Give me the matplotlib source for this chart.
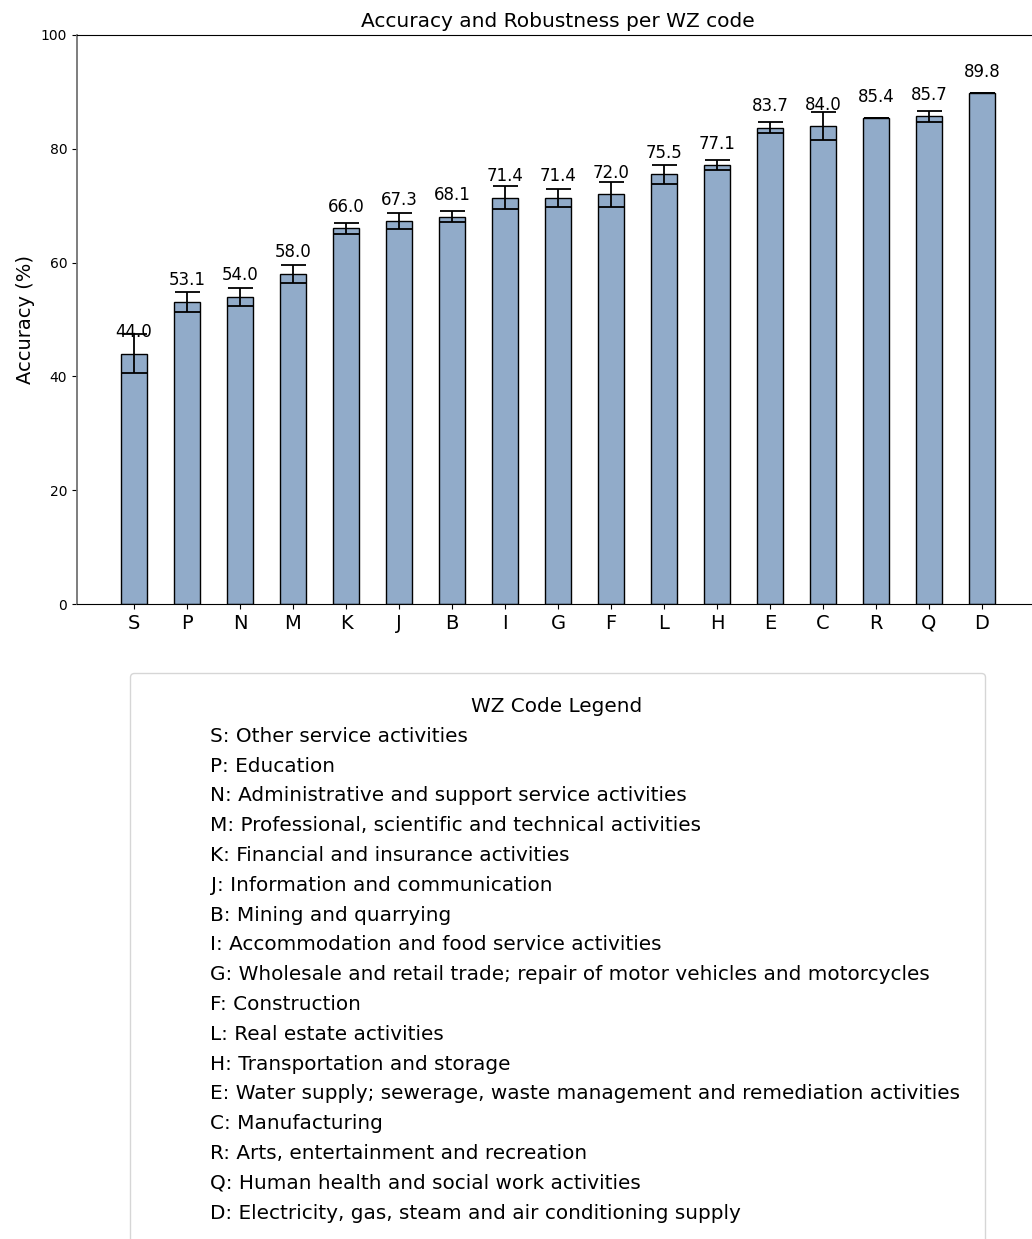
import matplotlib.pyplot as plt
from matplotlib.lines import Line2D

# Datos
codes = ['S', 'P', 'N', 'M', 'K', 'J', 'B', 'I', 'G', 'F', 'L', 'H', 'E', 'C', 'R', 'Q', 'D']
accuracy = [44.0, 53.1, 54.0, 58.0, 66.0, 67.3, 68.1, 71.4, 71.4, 72.0, 75.5, 77.1, 83.7, 84.0, 85.4, 85.7, 89.8]
errors = [3.4, 1.7, 1.6, 1.6, 1.0, 1.4, 1.0, 2.0, 1.6, 2.2, 1.7, 0.9, 0.95, 2.4, 0.0, 1.0, 0.0]
descriptions = [
    'Other service activities',
    'Education',
    'Administrative and support service activities',
    'Professional, scientific and technical activities',
    'Financial and insurance activities',
    'Information and communication',
    'Mining and quarrying',
    'Accommodation and food service activities',
    'Wholesale and retail trade; repair of motor vehicles and motorcycles',
    'Construction',
    'Real estate activities',
    'Transportation and storage',
    'Water supply; sewerage, waste management and remediation activities',
    'Manufacturing',
    'Arts, entertainment and recreation',
    'Human health and social work activities',
    'Electricity, gas, steam and air conditioning supply',
]

W, H = 1032, 1239
fig = plt.figure(figsize=(W / 100, H / 100), dpi=100)
ax = fig.add_axes([77 / W, 1 - 604 / H, (1039 - 77) / W, (604 - 35) / H])

x = list(range(len(codes)))
ax.bar(x, accuracy, width=0.5, color='#91abc9', edgecolor='black', linewidth=1.0,
       yerr=errors, capsize=9, error_kw={'elinewidth': 1.3, 'capthick': 1.3, 'ecolor': 'black'})

for i, v in enumerate(accuracy):
    ax.text(i, v + 2.2, f'{v:.1f}', ha='center', va='bottom', fontsize=12)

ax.set_xticks(x)
ax.set_xticklabels(codes, fontsize=14)
ax.set_ylim(0, 100)
ax.set_xlim(-1.075, len(codes) - 1 + 1.075)
ax.tick_params(axis='y', labelsize=10)
ax.set_ylabel('Accuracy (%)', fontsize=14)
ax.set_title('Accuracy and Robustness per WZ code', fontsize=14.5)
ax.spines['left'].set_color('0.45')
ax.spines['left'].set_linewidth(1.3)

# Leyenda con descripciones de los códigos
handles = [Line2D([], [], linestyle='none') for _ in codes]
labels = [f'{c}: {d}' for c, d in zip(codes, descriptions)]
fig.legend(handles, labels, title='WZ Code Legend', loc='upper center',
           bbox_to_anchor=(557 / W, 1 - 673 / H), fontsize=14.4, title_fontsize=14.4,
           borderpad=1.2, borderaxespad=0, handlelength=2.05, labelspacing=0.54,
           frameon=True)

fig.savefig('out.png', dpi=100)
